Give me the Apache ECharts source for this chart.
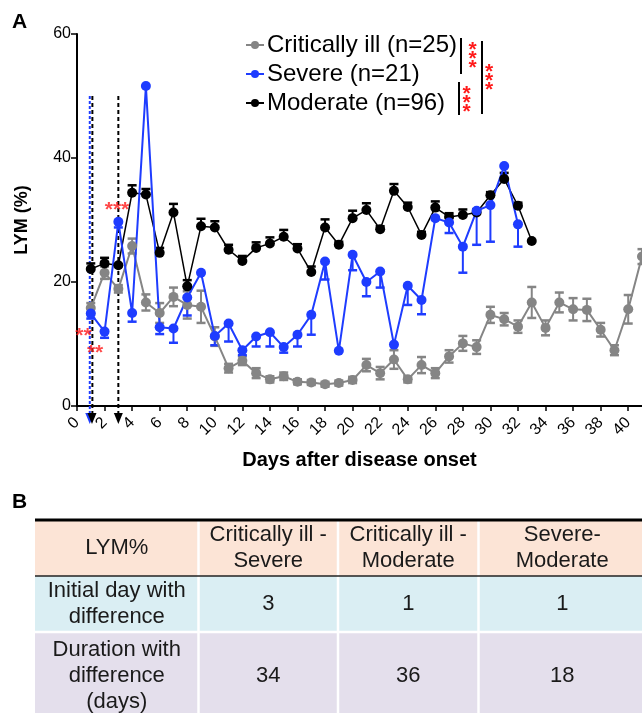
<!DOCTYPE html>
<html>
<head>
<meta charset="utf-8">
<script src="https://cdn.jsdelivr.net/npm/echarts@6/dist/echarts.min.js"></script>
<style>
  html, body { margin: 0; padding: 0; background: #fff; }
  #chart { width: 642px; height: 713px; }
</style>
</head>
<body>
<div id="chart"></div>
<script>
/* data */
const criticalDays = [1,2,3,4,5,6,7,8,9,10,11,12,13,14,15,16,17,18,19,20,21,22,23,24,25,26,27,28,29,30,31,32,33,34,35,36,37,38,39,40,41];
const criticalMean = [15.8,21.5,18.9,25.8,16.7,15.0,17.6,16.3,16.0,11.2,6.1,7.3,5.3,4.3,4.8,3.9,3.8,3.5,3.7,4.2,6.6,5.3,7.5,4.3,6.6,5.3,8.0,10.1,9.5,14.7,14.0,12.8,16.7,12.6,16.7,15.6,15.5,12.3,9.0,15.6,24.1];
const criticalErr = [0.8,1.0,0.6,1.2,1.3,1.6,1.5,2.2,2.6,1.5,0.7,0.7,0.8,0.5,0.6,0.4,0.4,0.4,0.4,0.5,1.0,1.0,1.5,0.5,1.3,0.8,1.0,1.2,1.1,1.3,1.0,1.0,2.5,1.2,1.6,1.8,1.8,1.1,0.8,2.3,1.2];

const severeDays = [1,2,3,4,5,6,7,8,9,10,11,12,13,14,15,16,17,18,19,20,21,22,23,24,25,26,27,28,29,30,31,32];
const severeMean = [14.9,12.0,29.7,15.0,51.6,12.7,12.5,17.5,21.5,11.3,13.3,9.0,11.2,11.9,9.5,11.5,14.7,23.3,8.9,24.4,20.0,21.7,9.9,19.4,17.1,30.3,29.6,25.7,31.5,32.4,38.7,29.3];
const severeErr = [0.8,1.0,0.9,1.4,0,1.1,2.3,2.9,0,1.5,2.9,0.8,1.6,2.3,0.9,1.9,3.2,2.9,0,2.5,2.3,2.6,0,3.1,2.3,0,1.7,4.2,5.5,5.9,0,3.6];

const moderateDays = [1,2,3,4,5,6,7,8,9,10,11,12,13,14,15,16,17,18,19,20,21,22,23,24,25,26,27,28,29,30,31,32,33];
const moderateMean = [22.1,23.0,22.7,34.4,34.1,24.7,31.2,19.3,29.0,28.8,25.2,23.4,25.5,26.2,27.3,25.4,21.6,28.8,26.0,30.3,31.6,28.5,34.7,32.1,27.6,32.0,30.5,30.8,31.2,34.0,36.6,32.3,26.6];
const moderateErr = [0.9,0.9,0,1.2,0.9,0.8,1.4,1.0,1.2,1.0,0.8,0.8,0.9,1.0,1.1,0.7,0.9,1.3,0.5,1.2,1.1,0.5,1.1,0.7,0.5,1.0,0.6,0.9,0.5,0.5,1.0,0.5,0];

const seriesNames = ['Critically ill (n=25)', 'Severe (n=21)', 'Moderate (n=96)'];

// first day with a difference, dashed guides
const guideDays = [1, 3];
const guideTop = [50, 50];

// star annotations near the curves
const starPoints = [[0.47, 12.1], [1.31, 9.35], [2.9, 32.4]];
const starText = ['**', '**', '***'];

// panel B table
const tableHeader = ['LYM%', 'Critically ill -\nSevere', 'Critically ill -\nModerate', 'Severe-\nModerate'];
const rowLabels = ['Initial day with\ndifference', 'Duration with\ndifference\n(days)'];
const initialDay = [3, 1, 1];
const durationDays = [34, 36, 18];

const GRAY = '#858585';
const BLUE = '#1e3cff';
const BLACK = '#000000';
const FONT = '"Liberation Sans", Arial, Helvetica, sans-serif';

const chart = echarts.init(document.getElementById('chart'));

function errorBars(days, means, errs, color, dir) {
    return {
        type: 'custom',
        silent: true,
        encode: { x: 0, y: 1 },
        data: days.map((d, i) => [d, means[i], errs[i]]),
        renderItem: function (params, api) {
            const x = api.value(0), m = api.value(1), e = api.value(2);
            if (!e) return null;
            const hi = api.coord([x, dir >= 0 ? m + e : m]);
            const lo = api.coord([x, dir <= 0 ? m - e : m]);
            const kids = [{ type: 'line', shape: { x1: hi[0], y1: hi[1], x2: lo[0], y2: lo[1] }, style: { stroke: color, lineWidth: 2 } }];
            if (dir >= 0) kids.push({ type: 'line', shape: { x1: hi[0] - 4.5, y1: hi[1], x2: hi[0] + 4.5, y2: hi[1] }, style: { stroke: color, lineWidth: 2.5 } });
            if (dir <= 0) kids.push({ type: 'line', shape: { x1: lo[0] - 4.5, y1: lo[1], x2: lo[0] + 4.5, y2: lo[1] }, style: { stroke: color, lineWidth: 2.5 } });
            return { type: 'group', children: kids };
        }
    };
}

function lineSeries(name, days, means, color, width) {
    return {
        type: 'line',
        name: name,
        data: days.map((d, i) => [d, means[i]]),
        symbol: 'circle',
        symbolSize: 10,
        itemStyle: { color: color },
        lineStyle: { color: color, width: width },
        emphasis: { disabled: true },
        animation: false
    };
}

function guideSeries() {
    return {
        type: 'custom',
        silent: true,
        clip: false,
        encode: { x: 0, y: 1 },
        data: guideDays.map((d, i) => [d, guideTop[i]]),
        renderItem: function (params, api) {
            const day = api.value(0);
            const top = api.coord([day, api.value(1)]);
            const base = api.coord([day, 0]);
            const colors = params.dataIndex === 0 ? [BLUE, BLACK] : [BLACK];
            const kids = [];
            colors.forEach(function (c, k) {
                const dx = colors.length > 1 ? (k === 0 ? -1 : 1.6) : 0;
                const x = top[0] + dx;
                kids.push({ type: 'line', shape: { x1: x, y1: top[1], x2: x, y2: base[1] + 8 },
                    style: { stroke: c, lineWidth: 2, lineDash: c === BLUE ? [3, 2] : [4, 3] } });
            });
            colors.forEach(function (c, k) {
                const dx = colors.length > 1 ? (k === 0 ? -1 : 1.2) : 0;
                const x = top[0] + dx;
                kids.push({ type: 'polygon', shape: { points: [[x - 4.5, base[1] + 7], [x + 4.5, base[1] + 7], [x, base[1] + 18]] },
                    style: { fill: c } });
            });
            return { type: 'group', children: kids };
        }
    };
}

// table graphics for panel B
function tableGraphics() {
    const colX = [35, 198.5, 338, 478.5, 646];
    const rowY = [520, 576, 632, 720];
    const fills = ['#fce4d6', '#daeef3', '#e4dfec'];
    const rows = [tableHeader, [rowLabels[0]].concat(initialDay.map(String)), [rowLabels[1]].concat(durationDays.map(String))];
    const out = [];
    for (let r = 0; r < 3; r++) {
        out.push({ type: 'rect', shape: { x: colX[0], y: rowY[r], width: colX[4] - colX[0], height: rowY[r + 1] - rowY[r] }, style: { fill: fills[r] } });
        for (let c = 0; c < 4; c++) {
            out.push({ type: 'text', x: (colX[c] + colX[c + 1]) / 2, y: (rowY[r] + rowY[r + 1]) / 2,
                style: { text: rows[r][c], fill: '#1a1a1a', font: '22px ' + FONT, align: 'center', verticalAlign: 'middle', lineHeight: 26 } });
        }
    }
    for (let c = 1; c < 4; c++) {
        out.push({ type: 'line', shape: { x1: colX[c], y1: rowY[0], x2: colX[c], y2: rowY[3] }, style: { stroke: '#fff', lineWidth: 2.5 } });
    }
    out.push({ type: 'line', shape: { x1: colX[0], y1: rowY[2], x2: colX[4], y2: rowY[2] }, style: { stroke: '#fff', lineWidth: 2.5 } });
    out.push({ type: 'line', shape: { x1: colX[0], y1: rowY[1], x2: colX[4], y2: rowY[1] }, style: { stroke: '#222', lineWidth: 1.5 } });
    out.push({ type: 'line', shape: { x1: colX[0], y1: rowY[0], x2: colX[4], y2: rowY[0] }, style: { stroke: '#000', lineWidth: 3 } });
    return out;
}

// significance brackets beside the legend
function sigGraphics() {
    const bars = [[461, 38, 74], [482, 41, 114], [459, 82, 115]];
    const stars = [[472.5, 45], [489, 67], [466.5, 89]];
    const out = [];
    bars.forEach(b => out.push({ type: 'line', shape: { x1: b[0], y1: b[1], x2: b[0], y2: b[2] }, style: { stroke: '#000', lineWidth: 2 } }));
    stars.forEach(s => {
        for (let k = 0; k < 3; k++) {
            out.push({ type: 'text', x: s[0], y: s[1] + k * 9 + 5,
                style: { text: '*', fill: '#ff1a1a', font: 'bold 21px ' + FONT, align: 'center', verticalAlign: 'middle' } });
        }
    });
    return out;
}

const option = {
    animation: false,
    textStyle: { fontFamily: FONT },
    grid: { left: 77, right: 0, top: 34, bottom: 307 },
    legend: {
        data: seriesNames,
        orient: 'vertical',
        left: 240,
        top: 28,
        itemWidth: 18,
        itemHeight: 10,
        itemGap: 5,
        textStyle: { fontSize: 24, color: '#000', fontFamily: FONT, lineHeight: 24, padding: [0, 0, 0, -2] },
        selectedMode: false
    },
    xAxis: {
        type: 'value', min: 0, max: 41, interval: 2,
        name: 'Days after disease onset', nameLocation: 'middle', nameGap: 44,
        nameTextStyle: { fontSize: 20, fontWeight: 'bold', color: '#000' },
        axisLine: { onZero: false, lineStyle: { color: '#000', width: 2 } },
        axisTick: { length: 5, lineStyle: { color: '#000', width: 1.5 } },
        axisLabel: { rotate: 45, fontSize: 16, color: '#000', margin: 14, showMaxLabel: false,
            formatter: v => (v % 2 === 0 && v <= 40) ? String(v) : '' },
        splitLine: { show: false }
    },
    yAxis: {
        type: 'value', min: 0, max: 60, interval: 20,
        name: 'LYM (%)', nameLocation: 'middle', nameGap: 46,
        nameTextStyle: { fontSize: 18, fontWeight: 'bold', color: '#000' },
        axisLine: { show: true, lineStyle: { color: '#000', width: 2 } },
        axisTick: { show: true, length: 6, lineStyle: { color: '#000', width: 1.5 } },
        axisLabel: { fontSize: 16, color: '#000', margin: 6 },
        splitLine: { show: false }
    },
    series: [
        guideSeries(),
        errorBars(criticalDays, criticalMean, criticalErr, GRAY, 0),
        lineSeries(seriesNames[0], criticalDays, criticalMean, GRAY, 2),
        errorBars(moderateDays, moderateMean, moderateErr, BLACK, 1),
        lineSeries(seriesNames[2], moderateDays, moderateMean, BLACK, 1.5),
        errorBars(severeDays, severeMean, severeErr, BLUE, -1),
        lineSeries(seriesNames[1], severeDays, severeMean, BLUE, 2),
        {
            type: 'scatter',
            silent: true,
            symbolSize: 0,
            data: starPoints,
            label: { show: true, position: 'inside', offset: [0, 5], color: '#ff1a1a', fontSize: 21, fontWeight: 'bold',
                formatter: p => starText[p.dataIndex] }
        }
    ],
    graphic: [
        { type: 'text', x: 12, y: 12, style: { text: 'A', font: 'bold 21px ' + FONT, fill: '#000' } },
        { type: 'text', x: 12, y: 492, style: { text: 'B', font: 'bold 21px ' + FONT, fill: '#000' } }
    ].concat(sigGraphics(), tableGraphics())
};

chart.setOption(option);
</script>
</body>
</html>
